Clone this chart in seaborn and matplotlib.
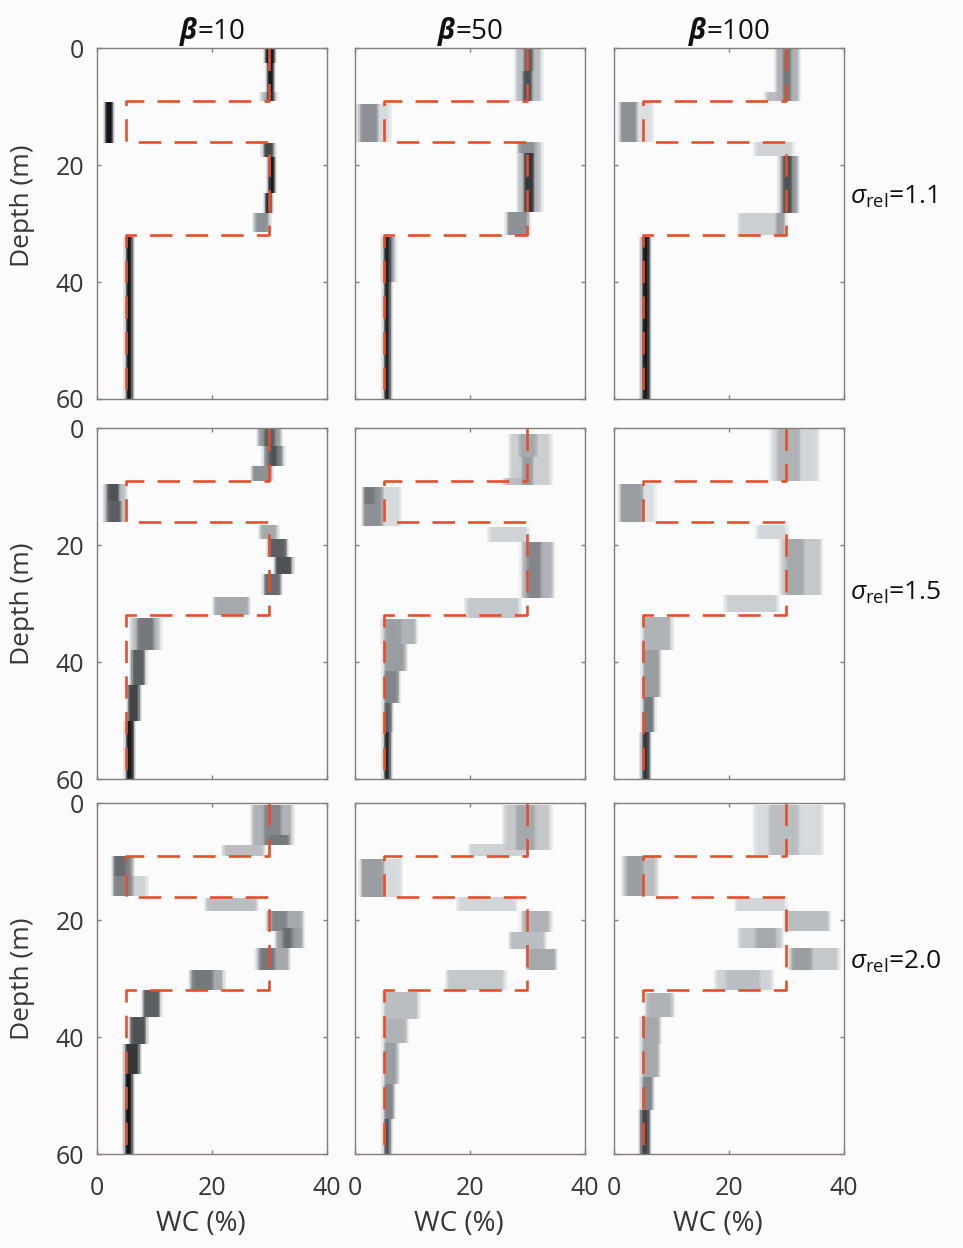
import numpy as np
import matplotlib
matplotlib.use("Agg")
import matplotlib.pyplot as plt
from matplotlib.colors import LinearSegmentedColormap
import seaborn as sns

# ---------------------------------------------------------------------------
# Data
# ---------------------------------------------------------------------------
betas = [10, 50, 100]
sigmas = ["1.1", "1.5", "2.0"]
wc_ticks = [0, 20, 40]
depth_ticks = [0, 20, 40, 60]

# True layered water-content model (WC in %, depth in m)
true_wc = [30, 30, 5, 5, 30, 30, 5, 5]
true_depth = [0, 9, 9, 16, 16, 32, 32, 60]

# Posterior density blocks: (depth top, depth bottom, WC low, WC high, density 0-1)
post_b10_s11 = [
    (0.0, 2.5, 29.3, 31.0, 0.95), (2.5, 7.5, 29.6, 30.8, 0.95),
    (7.5, 9.0, 28.6, 31.2, 0.35), (7.5, 9.0, 29.6, 30.8, 0.90),
    (9.3, 16.3, 1.4, 2.9, 0.97),
    (16.3, 18.6, 28.8, 31.0, 0.40), (16.3, 18.6, 29.0, 30.6, 0.80),
    (18.6, 24.7, 29.8, 31.0, 0.95), (24.7, 28.2, 29.2, 30.4, 0.90),
    (28.2, 31.5, 27.5, 30.1, 0.50),
    (32.3, 60.0, 5.0, 6.2, 0.97),
]
post_b50_s11 = [
    (0.0, 9.0, 28.0, 32.5, 0.30), (0.0, 4.0, 29.5, 31.0, 0.70),
    (4.0, 9.0, 29.2, 30.8, 0.75),
    (9.5, 16.0, 0.5, 6.0, 0.15), (9.5, 16.0, 0.9, 4.0, 0.50),
    (16.0, 28.0, 28.5, 32.5, 0.30), (16.0, 18.0, 28.5, 31.5, 0.50),
    (18.0, 28.0, 29.5, 31.2, 0.85), (28.0, 32.0, 26.5, 30.2, 0.50),
    (32.3, 40.0, 4.8, 7.0, 0.40), (32.3, 60.0, 5.0, 6.3, 0.92),
]
post_b100_s11 = [
    (0.0, 9.0, 28.2, 32.2, 0.35), (0.0, 9.0, 29.5, 30.8, 0.60),
    (7.5, 9.0, 26.5, 31.0, 0.30),
    (9.3, 16.0, 1.0, 4.0, 0.50), (9.3, 16.0, 4.0, 6.7, 0.12),
    (16.0, 18.5, 24.7, 31.0, 0.20), (18.5, 28.2, 28.8, 32.0, 0.45),
    (18.5, 28.2, 29.5, 31.0, 0.75), (28.2, 32.0, 21.8, 29.9, 0.22),
    (28.2, 32.0, 28.2, 29.9, 0.45),
    (32.3, 60.0, 4.8, 6.2, 0.95),
]
post_b10_s15 = [
    (0.0, 3.0, 28.0, 32.0, 0.45), (0.0, 3.0, 29.0, 31.0, 0.70),
    (3.0, 6.5, 29.0, 32.5, 0.55), (3.0, 6.5, 30.0, 31.5, 0.75),
    (6.5, 9.0, 27.0, 30.5, 0.50),
    (9.5, 16.0, 1.2, 5.0, 0.30), (9.5, 12.5, 1.8, 3.8, 0.75),
    (12.5, 16.0, 1.8, 4.2, 0.70),
    (16.5, 19.0, 28.5, 31.5, 0.40), (19.0, 22.0, 29.8, 33.0, 0.70),
    (22.0, 25.0, 31.0, 34.0, 0.75), (25.0, 28.5, 29.0, 32.0, 0.65),
    (28.8, 32.0, 20.5, 26.5, 0.40),
    (32.5, 38.0, 6.0, 11.0, 0.30), (32.5, 38.0, 7.0, 10.0, 0.60),
    (38.0, 44.0, 6.0, 8.5, 0.70), (44.0, 50.0, 5.5, 7.5, 0.80),
    (50.0, 60.0, 5.0, 6.5, 0.95),
]
post_b50_s15 = [
    (1.0, 9.8, 27.0, 34.0, 0.22), (1.0, 5.0, 28.7, 31.6, 0.40),
    (5.0, 9.8, 29.0, 31.0, 0.45), (8.5, 9.8, 26.0, 30.0, 0.30),
    (10.0, 16.7, 1.4, 4.9, 0.50), (10.0, 13.0, 1.6, 3.5, 0.60),
    (10.0, 16.7, 4.9, 7.8, 0.15),
    (17.0, 19.5, 23.5, 30.0, 0.20), (19.5, 29.0, 29.0, 34.4, 0.35),
    (19.5, 29.0, 30.0, 32.5, 0.55), (29.0, 32.5, 19.4, 28.7, 0.25),
    (32.7, 37.0, 4.9, 10.7, 0.35), (32.7, 37.0, 5.5, 8.0, 0.45),
    (37.0, 41.5, 5.0, 8.8, 0.45), (41.5, 47.0, 5.0, 7.7, 0.55),
    (47.0, 52.0, 5.0, 6.5, 0.70), (52.0, 60.0, 5.0, 6.3, 0.90),
]
post_b100_s15 = [
    (0.0, 9.0, 27.5, 35.5, 0.18), (0.0, 9.0, 28.5, 32.5, 0.35),
    (9.5, 16.0, 1.0, 5.0, 0.45), (9.5, 16.0, 5.0, 7.0, 0.12),
    (16.5, 19.0, 25.0, 30.0, 0.18), (19.0, 28.5, 29.0, 36.0, 0.25),
    (19.0, 28.5, 30.0, 33.0, 0.40), (28.5, 31.5, 19.5, 28.5, 0.22),
    (32.3, 38.0, 5.0, 10.0, 0.35), (38.0, 46.0, 5.0, 8.0, 0.45),
    (46.0, 52.0, 5.0, 7.0, 0.60), (52.0, 60.0, 4.8, 6.2, 0.85),
]
post_b10_s20 = [
    (0.3, 7.2, 27.0, 34.0, 0.35), (0.3, 7.2, 29.0, 32.0, 0.55),
    (5.5, 7.2, 30.0, 33.5, 0.60), (7.2, 9.0, 22.0, 29.0, 0.30),
    (9.0, 15.8, 2.8, 6.3, 0.55), (9.0, 12.5, 3.0, 5.0, 0.65),
    (12.5, 15.8, 6.3, 8.7, 0.20),
    (16.2, 18.4, 19.0, 27.8, 0.30), (18.4, 21.8, 29.6, 35.8, 0.40),
    (18.4, 21.8, 30.5, 33.0, 0.55), (21.3, 24.7, 31.3, 35.8, 0.45),
    (21.3, 24.7, 32.4, 34.0, 0.65), (24.7, 28.5, 27.8, 33.5, 0.40),
    (24.7, 28.5, 28.5, 31.0, 0.60), (28.5, 32.0, 16.2, 22.0, 0.40),
    (28.5, 32.0, 16.7, 20.2, 0.60),
    (32.0, 36.6, 8.0, 11.0, 0.70), (36.6, 41.2, 5.8, 8.7, 0.75),
    (41.2, 46.3, 4.9, 7.5, 0.85), (46.3, 60.0, 4.9, 6.3, 0.97),
]
post_b50_s20 = [
    (0.3, 8.0, 26.0, 34.0, 0.25), (0.3, 8.0, 28.0, 31.5, 0.40),
    (7.0, 9.0, 20.0, 30.0, 0.20),
    (9.5, 16.0, 1.0, 5.0, 0.45), (9.5, 16.0, 5.0, 8.0, 0.15),
    (16.0, 18.5, 18.0, 28.0, 0.18), (18.5, 22.0, 29.0, 34.0, 0.35),
    (22.0, 25.0, 27.0, 33.0, 0.30), (25.0, 28.5, 30.0, 35.0, 0.40),
    (28.5, 32.0, 16.0, 26.0, 0.25),
    (32.3, 37.0, 5.0, 11.0, 0.30), (37.0, 41.0, 5.0, 9.0, 0.35),
    (41.0, 48.0, 5.0, 7.5, 0.45), (48.0, 54.0, 5.0, 6.8, 0.55),
    (54.0, 60.0, 5.0, 6.3, 0.75),
]
post_b100_s20 = [
    (0.3, 8.9, 24.7, 36.2, 0.15), (0.3, 8.9, 27.0, 32.2, 0.30),
    (9.0, 15.8, 1.6, 7.4, 0.30), (9.0, 15.8, 2.2, 5.0, 0.45),
    (16.2, 18.4, 21.3, 29.9, 0.18), (18.4, 21.8, 29.9, 37.4, 0.30),
    (21.3, 24.7, 21.8, 29.2, 0.25), (21.3, 24.7, 24.7, 28.2, 0.40),
    (24.7, 28.5, 30.4, 39.0, 0.25), (24.7, 28.5, 31.0, 34.4, 0.45),
    (28.5, 32.0, 17.8, 27.5, 0.20), (28.5, 32.0, 19.5, 25.5, 0.30),
    (32.4, 36.6, 5.7, 10.2, 0.35), (36.6, 41.2, 4.8, 8.1, 0.40),
    (41.2, 46.8, 4.8, 7.9, 0.40), (46.8, 52.5, 4.8, 6.8, 0.55),
    (52.5, 60.0, 4.6, 6.3, 0.80),
]

panels = [
    [post_b10_s11, post_b50_s11, post_b100_s11],
    [post_b10_s15, post_b50_s15, post_b100_s15],
    [post_b10_s20, post_b50_s20, post_b100_s20],
]

# ---------------------------------------------------------------------------
# Style
# ---------------------------------------------------------------------------
sns.set_theme(style="ticks")
FRAME = "#877e7a"
TEXT = "#3a3432"
BG = "#fbfbfb"
FS = 18
plt.rcParams.update({
    "font.family": ["Open Sans", "DejaVu Sans"],
    "mathtext.fontset": "custom",
    "mathtext.rm": "Open Sans",
    "mathtext.it": "Open Sans:italic",
    "mathtext.bf": "Open Sans:bold",
    "mathtext.bfit": "Open Sans:italic:bold",
    "font.size": FS,
    "xtick.labelsize": FS,
    "ytick.labelsize": FS,
    "axes.labelsize": FS,
    "text.color": TEXT,
    "axes.labelcolor": TEXT,
    "xtick.color": FRAME,
    "ytick.color": FRAME,
    "xtick.labelcolor": TEXT,
    "ytick.labelcolor": TEXT,
    "axes.edgecolor": FRAME,
    "axes.linewidth": 1.0,
    "figure.facecolor": BG,
    "axes.facecolor": BG,
})

density_cmap = LinearSegmentedColormap.from_list(
    "post", [(0.0, "#eef0f2"), (0.2, "#cfd3d6"), (0.45, "#9a9ea2"),
             (0.75, "#505356"), (1.0, "#0d0d0d")])

wc_edges = np.linspace(0, 40, 201)
depth_edges = np.linspace(0, 60, 601)
wc_c = 0.5 * (wc_edges[:-1] + wc_edges[1:])
depth_c = 0.5 * (depth_edges[:-1] + depth_edges[1:])
WCg, Dg = np.meshgrid(wc_c, depth_c)

# slight smearing of the density along the WC axis
kern = np.array([1.0, 2.0, 4.0, 2.0, 1.0])
kern /= kern.sum()

fig = plt.figure(figsize=(9.63, 12.48), dpi=100)

col_left = [0.1007, 0.3686, 0.6376]
col_w = 0.2388
row_bottom = [0.6803, 0.3758, 0.0753]
row_h = 0.2812
ylabel_pos = [0.55, 0.5, 0.5]

for r in range(3):
    for c in range(3):
        ax = fig.add_axes([col_left[c], row_bottom[r], col_w, row_h])
        grid = np.zeros_like(WCg)
        for top, bot, lo, hi, val in panels[r][c]:
            m = (Dg >= top) & (Dg < bot) & (WCg >= lo) & (WCg < hi)
            grid[m] = np.maximum(grid[m], val)
        grid = np.apply_along_axis(
            lambda row: np.convolve(row, kern, mode="same"), 1, grid)
        keep = grid > 0.01
        sns.histplot(x=WCg[keep], y=Dg[keep], weights=grid[keep],
                     bins=(wc_edges, depth_edges), cmap=density_cmap,
                     vmin=0, vmax=1, cbar=False, ax=ax, linewidth=0)
        sns.lineplot(x=true_wc, y=true_depth, sort=False, estimator=None,
                     color="#e5502c", linewidth=1.9,
                     linestyle=(0, (8.5, 5)), ax=ax)
        ax.set_xlim(0, 40)
        ax.set_ylim(60, 0)
        ax.set_xticks(wc_ticks)
        ax.set_yticks(depth_ticks)
        ax.tick_params(direction="in", length=3, width=1.0,
                       top=True, right=True)
        ax.tick_params(axis="y", pad=9)
        ax.tick_params(axis="x", pad=16)
        for s in ax.spines.values():
            s.set_visible(True)
            s.set_color(FRAME)
        ax.set_xlabel("")
        ax.set_ylabel("")
        if c == 0:
            ax.set_ylabel("Depth (m)", fontsize=FS + 1)
            ax.yaxis.set_label_coords(-0.27, ylabel_pos[r])
        else:
            ax.set_yticklabels([])
        if r == 2:
            ax.set_xlabel("WC (%)", fontsize=FS + 2)
            ax.xaxis.set_label_coords(0.45, -0.16)
        else:
            ax.set_xticklabels([])
        if r == 0:
            ax.set_title(r"$\boldsymbol{\beta}$=" + str(betas[c]),
                         fontsize=FS + 2, pad=4, color="#111111")

label_y = [0.842, 0.525, 0.229]
for r in range(3):
    fig.text(0.883, label_y[r], r"$\sigma_{\mathrm{rel}}$=" + sigmas[r],
             fontsize=FS + 1, ha="left", va="center", color="#111111")

fig.savefig("out.png", dpi=100, facecolor=BG)
